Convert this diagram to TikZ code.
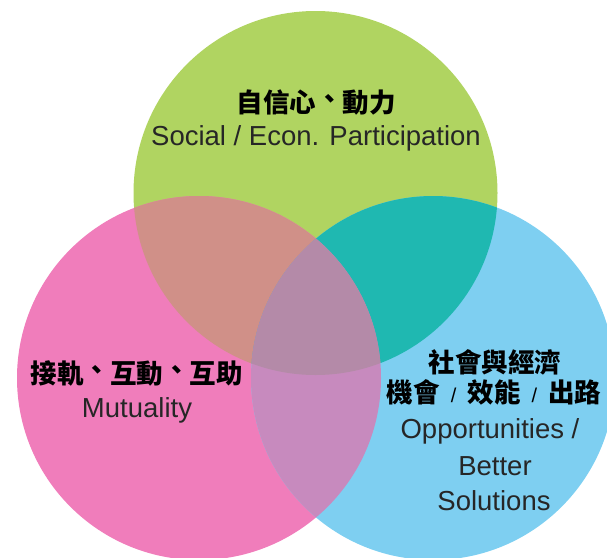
\documentclass[tikz,border=0pt]{standalone}
\usepackage{fontspec}
\setmainfont{Liberation Sans}
\newfontfamily\cjk{Noto Sans CJK TC}
\definecolor{vgreen}{HTML}{B0D461}
\definecolor{vpink}{HTML}{F07DBB}
\definecolor{vblue}{HTML}{7ECFF1}
\definecolor{vgreenpink}{HTML}{D09088}
\definecolor{vgreenblue}{HTML}{1FB8B1}
\definecolor{vpinkblue}{HTML}{C78ABE}
\definecolor{vcentre}{HTML}{B48AA8}
% raised comma and thin slash between the Chinese words
\newcommand{\midcomma}{\raisebox{0.15em}{、}}
\newcommand{\sepslash}{\hspace{11pt}{\normalfont\mdseries\fontsize{20}{31}\selectfont /}\hspace{11pt}}
\tikzset{
  cjktext/.style={font=\cjk\bfseries\fontsize{26.5}{31}\selectfont, text=black, inner sep=0pt},
  lattext/.style={font=\fontsize{27.5}{33}\selectfont, text=black!85, inner sep=0pt, anchor=base}
}

\begin{document}
\begin{tikzpicture}[x=1pt, y=-1pt]
\useasboundingbox (0,0) rectangle (607,557);
\coordinate (G) at (315.5,193);
\coordinate (P) at (199,378);
\coordinate (B) at (433,378);
% the three circles
\fill [vgreen] (G) circle (182);
\fill [vpink] (P) circle (182);
\fill [vblue] (B) circle (182);
% overlaps
\begin{scope}
  \clip (G) circle (182);
  \fill [vgreenpink] (P) circle (182);
  \fill [vgreenblue] (B) circle (182);
\end{scope}
\begin{scope}
  \clip (P) circle (182);
  \fill [vpinkblue] (B) circle (182);
  \clip (B) circle (182);
  \fill [vcentre] (G) circle (182);
\end{scope}
% labels
\node [cjktext] (confidence) at (316,102) {自信心\midcomma 動力};
\node [lattext] (confidenceEn) at (316,145) {Social / Econ. Participation};
\node [cjktext] (mutual) at (136.5,373.5) {接軌\midcomma 互動\midcomma 互助};
\node [lattext] (mutualEn) at (137,417) {Mutuality};
\node [cjktext] (opport) at (495,362) {社會與經濟};
\node [cjktext] (opportTwo) at (494,392) {機會\sepslash 效能\sepslash 出路};
\node [lattext] (opportEn) at (490,438) {Opportunities /};
\node [lattext] (betterEn) at (495,475) {Better};
\node [lattext] (solutionsEn) at (494,510) {Solutions};
\end{tikzpicture}
\end{document}
